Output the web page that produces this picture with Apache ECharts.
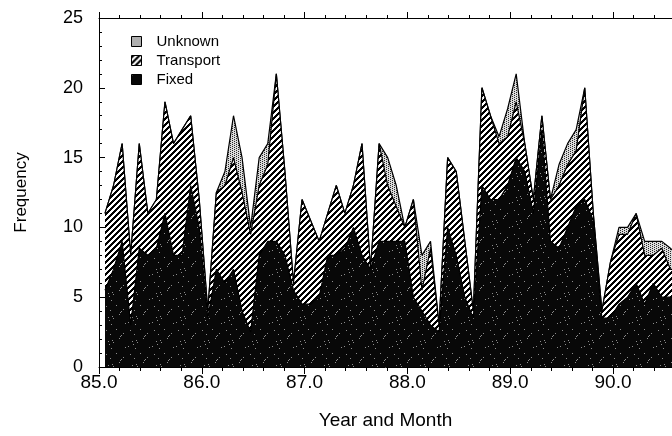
<!DOCTYPE html>
<html>
<head>
<meta charset="utf-8">
<script src="https://cdn.jsdelivr.net/npm/echarts/dist/echarts.min.js"></script>
<style>
  html, body { margin: 0; padding: 0; background: #fff; }
  #chart { width: 672px; height: 436px; }
</style>
</head>
<body>
<div id="chart"></div>
<script>
// monthly counts, Jan 85 .. Aug 90 (each layer's own share of the stack)
const fixed = [5.5, 7, 9, 3, 8.5, 8, 8.5, 11, 8, 8, 13, 10,
  3.5, 7, 6, 7, 4, 2.5, 8, 9, 9, 8, 5.5, 4.5,
  4.5, 5, 8, 8, 8.5, 10, 8, 7, 9, 9, 9, 9,
  5, 4, 3, 2.5, 10, 8, 5, 3.5, 13, 12, 12, 13,
  15, 14, 11, 17, 9, 8.5, 10, 11.5, 12, 10.5, 3.5, 3.5,
  4.5, 5, 6, 4.5, 6, 5, 5, 5];
const transport = [5.5, 6, 7, 5, 7.5, 3, 3.5, 8, 8, 9, 5, 2,
  0.5, 5.5, 7, 8, 8.5, 7, 5, 5.5, 12, 6, 0.5, 7.5,
  6, 4, 3, 5, 2.5, 3, 8, 0, 7, 4, 2.5, 1,
  7, 1.5, 5.5, 0.5, 5, 6, 4, 0.5, 7, 6, 4, 3.5,
  4, 2, 1, 1, 3, 4.5, 4.5, 4, 8, 0.5, 0.5, 4,
  5, 4.5, 5, 3.5, 2, 3.5, 2, 2];
const unknown = [0, 0, 0, 0, 0, 0, 0, 0, 0, 0, 0, 0,
  0, 0, 1, 3, 2.5, 0.5, 2, 1.5, 0, 0, 0, 0,
  0, 0, 0, 0, 0, 0, 0, 0, 0, 2, 1.5, 0,
  0, 2.5, 0.5, 0, 0, 0, 0, 0, 0, 0, 0.5, 2,
  2, 0, 0, 0, 0, 1.5, 1.5, 1.5, 0, 0, 0, 0,
  0.5, 0.5, 0, 1, 1, 0.5, 1.5, 1];
const xTicks = [85, 86, 87, 88, 89, 90];

// month i sits at year + (i + 0.7) / 12
const xs = fixed.map((v, i) => 85 + (i + 0.7) / 12);

// running tops of the stack
const topFixed = fixed.slice();
const topTransport = fixed.map((v, i) => v + transport[i]);
const topUnknown = topTransport.map((v, i) => v + unknown[i]);

function makePattern(size, fn) {
  const c = document.createElement('canvas');
  c.width = c.height = size;
  const ctx = c.getContext('2d');
  const img = ctx.createImageData(size, size);
  for (let y = 0; y < size; y++) {
    for (let x = 0; x < size; x++) {
      const g = fn(x, y);
      const k = (y * size + x) * 4;
      img.data[k] = img.data[k + 1] = img.data[k + 2] = g;
      img.data[k + 3] = 255;
    }
  }
  ctx.putImageData(img, 0, 0);
  return { image: c, repeat: 'repeat' };
}

const fixedFill = makePattern(24, (x, y) => ((x * 11 + y * 17 + x * y * 5) % 47 === 0 ? 140 : 8));
const hatchFill = makePattern(6, (x, y) => ((x + y) % 6 < 3 ? 0 : 255));
const stippleFill = makePattern(4, (x, y) => ((x + 2 * y) % 4 === 0 ? 40 : 220));

const black = '#000';
const font = 'Liberation Sans, Arial, Helvetica, sans-serif';

// each layer is drawn from 0 up to its stacked top, lower layers painted over
function layer(name, tops, fill, z) {
  return {
    name: name,
    type: 'line',
    symbol: 'none',
    z: z,
    lineStyle: { color: black, width: 1.2 },
    areaStyle: { color: fill, opacity: 1 },
    data: tops.map((v, i) => [xs[i], v])
  };
}

const chart = echarts.init(document.getElementById('chart'));
chart.setOption({
  animation: false,
  textStyle: { fontFamily: font, color: black },
  grid: { left: 99, top: 18, right: 0, bottom: 69, containLabel: false, outerBoundsMode: 'none' },
  legend: {
    orient: 'vertical',
    left: 126,
    top: 29,
    icon: 'rect',
    itemWidth: 10,
    itemHeight: 10,
    itemGap: 4,
    textStyle: { fontFamily: font, fontSize: 15, color: black, padding: [0, 0, 0, 10] },
    data: [
      { name: 'Unknown', itemStyle: { color: stippleFill, borderColor: black, borderWidth: 1 } },
      { name: 'Transport', itemStyle: { color: hatchFill, borderColor: black, borderWidth: 1 } },
      { name: 'Fixed', itemStyle: { color: fixedFill, borderColor: black, borderWidth: 1 } }
    ]
  },
  xAxis: [
    {
      type: 'value',
      position: 'bottom',
      min: xTicks[0],
      max: 90.574,
      interval: 1,
      name: 'Year and Month',
      nameLocation: 'middle',
      nameGap: 44,
      nameMoveOverlap: false,
      nameTextStyle: { fontFamily: font, fontSize: 19, color: black },
      axisLine: { lineStyle: { color: black, width: 1 } },
      axisTick: { inside: false, length: 7, lineStyle: { color: black } },
      minorTick: { show: true, splitNumber: 5, length: 4, lineStyle: { color: black } },
      axisLabel: {
        fontFamily: font, fontSize: 19, color: black, margin: 6,
        showMaxLabel: false,
        formatter: v => (xTicks.indexOf(v) >= 0 ? v.toFixed(1) : '')
      },
      splitLine: { show: false }
    },
    {
      type: 'value',
      position: 'top',
      min: xTicks[0],
      max: 90.574,
      interval: 1,
      axisLine: { lineStyle: { color: black, width: 1 } },
      axisTick: { inside: false, length: 6, lineStyle: { color: black } },
      minorTick: { show: true, splitNumber: 5, length: 3, lineStyle: { color: black } },
      axisLabel: { show: false },
      splitLine: { show: false }
    }
  ],
  yAxis: {
    type: 'value',
    min: 0,
    max: 25,
    interval: 5,
    name: 'Frequency',
    nameLocation: 'middle',
    nameGap: 69,
    nameMoveOverlap: false,
    nameRotate: 90,
    nameTextStyle: { fontFamily: font, fontSize: 17, color: black },
    axisLine: { show: true, lineStyle: { color: black, width: 1 } },
    axisTick: { show: true, inside: true, length: 6, lineStyle: { color: black } },
    minorTick: { show: true, splitNumber: 5, length: 3, lineStyle: { color: black } },
    axisLabel: { fontFamily: font, fontSize: 18, color: black, margin: 16 },
    splitLine: { show: false }
  },
  series: [
    layer('Unknown', topUnknown, stippleFill, 2),
    layer('Transport', topTransport, hatchFill, 3),
    layer('Fixed', topFixed, fixedFill, 4)
  ]
});
</script>
</body>
</html>
